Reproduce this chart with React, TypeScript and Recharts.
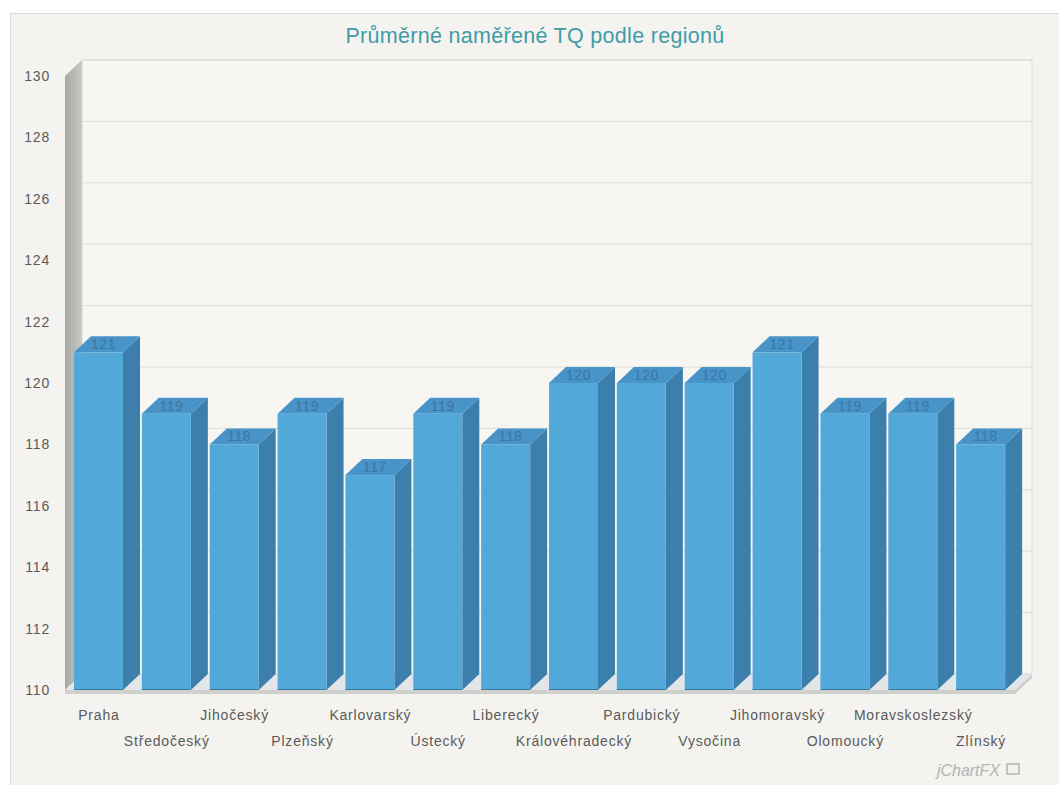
import React from "react";
import { BarChart, Bar, XAxis, YAxis, CartesianGrid } from "recharts";

const regions = [
  "Praha",
  "Středočeský",
  "Jihočeský",
  "Plzeňský",
  "Karlovarský",
  "Ústecký",
  "Liberecký",
  "Královéhradecký",
  "Pardubický",
  "Vysočina",
  "Jihomoravský",
  "Olomoucký",
  "Moravskoslezský",
  "Zlínský",
];
const values = [121, 119, 118, 119, 117, 119, 118, 120, 120, 120, 121, 119, 119, 118];
const yTicks = [110, 112, 114, 116, 118, 120, 122, 124, 126, 128, 130];

const data = regions.map((name, i) => ({ name, value: values[i] }));

const W = 1059;
const H = 785;
// front plane of the plot
const LEFT = 65;
const RIGHT = 1015;
const TOP = 76;
const BOTTOM = 690;
// 3d depth
const DX = 17;
const DY = 16;

const FONT = "'Liberation Sans', Arial, sans-serif";

const Bar3D = (props: any) => {
  const { x, y, width, height, value } = props;
  const front = "#53a8da";
  const top = "#4893c7";
  const side = "#3c7fad";
  return (
    <g>
      <polygon
        points={`${x + width},${y} ${x + width + DX},${y - DY} ${x + width + DX},${y + height - DY} ${x + width},${y + height}`}
        fill={side}
      />
      <polygon
        points={`${x},${y} ${x + DX},${y - DY} ${x + width + DX},${y - DY} ${x + width},${y}`}
        fill={top}
      />
      <rect x={x} y={y} width={width} height={height} fill={front} />
      <line x1={x} y1={y + height} x2={x + width} y2={y + height} stroke="#2f6892" strokeWidth={1.5} />
      <text
        x={x + width / 2 + 5}
        y={y - 3}
        textAnchor="middle"
        fontFamily={FONT}
        fontSize={14}
        letterSpacing={0.6}
        fill="#3a77a4"
      >
        {value}
      </text>
    </g>
  );
};

const XTick = (props: any) => {
  const { x, payload, index } = props;
  const row = index % 2 === 0 ? 0 : 1;
  return (
    <text
      x={x}
      y={BOTTOM + 30 + row * 26}
      textAnchor="middle"
      fontFamily={FONT}
      fontSize={14}
      letterSpacing={0.8}
      fill="#5a5a5a"
    >
      {payload.value}
    </text>
  );
};

const gridLine = (p: any) => (
  <line
    key={p.key}
    x1={p.x1 + DX}
    y1={p.y1 - DY}
    x2={p.x2 + DX}
    y2={p.y2 - DY}
    stroke="#deddd8"
    strokeWidth={1}
  />
);

export default function App() {
  return (
    <div style={{ position: "absolute", left: 0, top: 0, width: W, height: H, background: "#fff" }}>
      <svg width={W} height={H} style={{ position: "absolute", left: 0, top: 0 }}>
        <defs>
          <linearGradient id="wallGrad" x1="0" y1="0" x2="1" y2="0">
            <stop offset="0%" stopColor="#a6a6a4" />
            <stop offset="100%" stopColor="#c9c9c6" />
          </linearGradient>
        </defs>
        <rect x={10.5} y={13.5} width={W} height={H} fill="#f4f3ef" stroke="#dadad6" />
        {/* back wall */}
        <rect
          x={LEFT + DX}
          y={TOP - DY}
          width={RIGHT - LEFT}
          height={BOTTOM - TOP}
          fill="#f7f6f2"
          stroke="#dcdcd8"
        />
        {/* left wall */}
        <polygon
          points={`${LEFT},${TOP} ${LEFT + DX},${TOP - DY} ${LEFT + DX},${BOTTOM - DY} ${LEFT},${BOTTOM}`}
          fill="url(#wallGrad)"
        />
        {/* floor */}
        <polygon
          points={`${LEFT},${BOTTOM} ${LEFT + DX},${BOTTOM - DY} ${RIGHT + DX},${BOTTOM - DY} ${RIGHT},${BOTTOM}`}
          fill="#e3e6e8"
        />
        <polygon
          points={`${LEFT},${BOTTOM} ${RIGHT},${BOTTOM} ${RIGHT + DX},${BOTTOM - DY} ${RIGHT + DX},${BOTTOM - DY + 4} ${RIGHT},${BOTTOM + 4} ${LEFT},${BOTTOM + 4}`}
          fill="#cfcfcb"
        />
        <text
          x={535}
          y={43}
          textAnchor="middle"
          fontFamily={FONT}
          fontSize={21.5}
          letterSpacing={0.3}
          fill="#3f9ca9"
        >
          Průměrné naměřené TQ podle regionů
        </text>
        <text
          x={1000}
          y={776}
          textAnchor="end"
          fontFamily={FONT}
          fontStyle="italic"
          fontSize={16}
          fill="#b3b3b0"
        >
          jChartFX
        </text>
        <rect x={1007} y={764} width={12} height={10} fill="none" stroke="#b3b3b0" strokeWidth={1.5} />
      </svg>
      <div style={{ position: "absolute", left: 0, top: 0 }}>
        <BarChart
          width={W}
          height={H}
          data={data}
          margin={{ top: TOP, right: W - RIGHT, left: 0, bottom: 35 }}
          barSize={49}
        >
          <CartesianGrid vertical={false} horizontal={gridLine} />
          <XAxis
            dataKey="name"
            interval={0}
            axisLine={false}
            tickLine={false}
            height={H - BOTTOM - 35}
            tick={<XTick />}
          />
          <YAxis
            domain={[110, 130]}
            ticks={yTicks}
            width={LEFT}
            axisLine={false}
            tickLine={false}
            tickSize={0}
            tickMargin={15}
            tick={{ fill: "#5a5a5a", fontSize: 14, fontFamily: FONT, letterSpacing: 0.8 }}
            allowDataOverflow
          />
          <Bar dataKey="value" shape={<Bar3D />} isAnimationActive={false} />
        </BarChart>
      </div>
    </div>
  );
}
